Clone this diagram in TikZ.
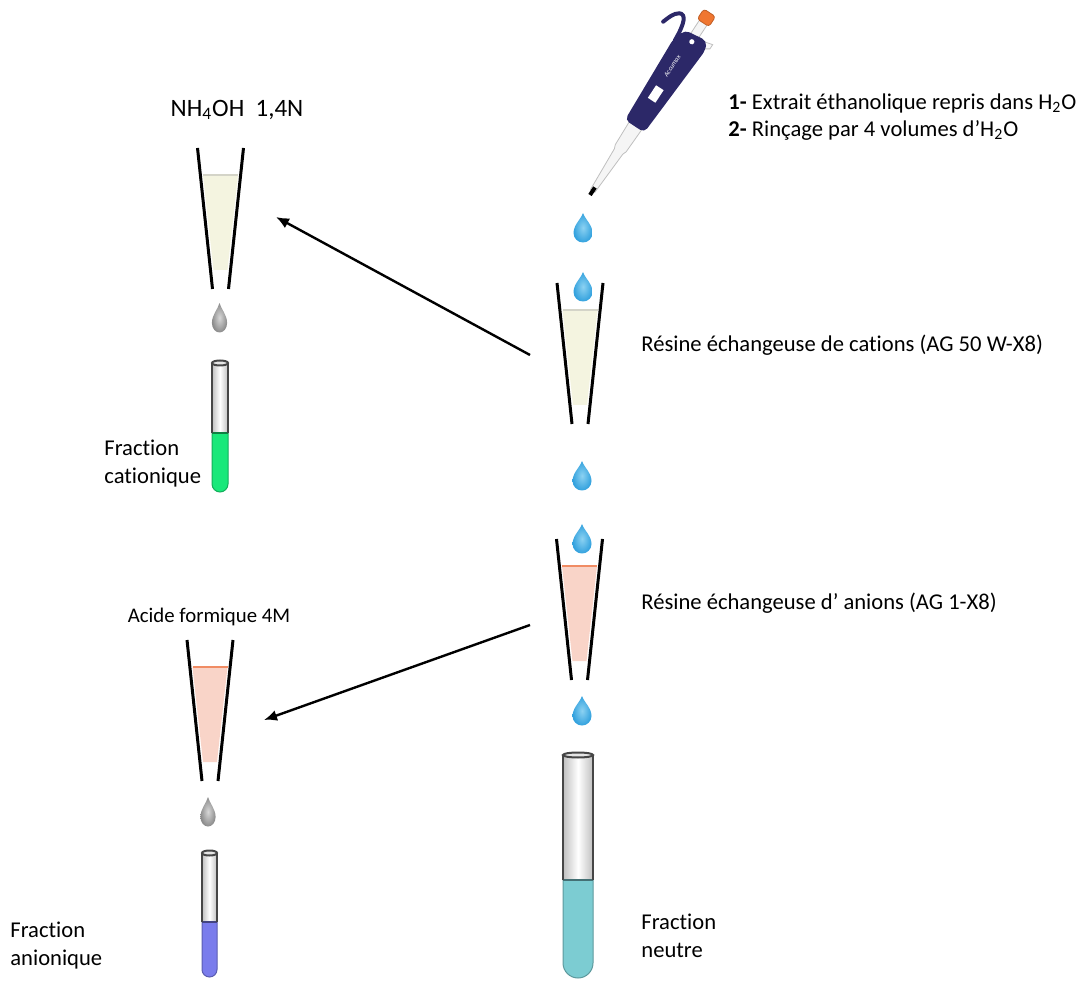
\documentclass[tikz,border=0pt]{standalone}
\usepackage{fontspec}
\setmainfont{Carlito}[Ligatures=NoCommon]
\usetikzlibrary{arrows.meta}

\definecolor{navy}{RGB}{44,40,104}
\definecolor{pipeorange}{RGB}{240,118,48}
\definecolor{dropblue}{RGB}{52,162,222}
\definecolor{droplight}{RGB}{140,210,242}
\definecolor{dropgray}{RGB}{140,140,140}
\definecolor{droplgray}{RGB}{215,215,215}
\definecolor{cream}{RGB}{244,244,224}
\definecolor{creamedge}{RGB}{212,212,200}
\definecolor{salmon}{RGB}{249,212,200}
\definecolor{salmonedge}{RGB}{240,140,100}
\definecolor{cationgreen}{RGB}{25,232,122}
\definecolor{anionblue}{RGB}{122,124,236}
\definecolor{neutralcyan}{RGB}{124,204,210}

% resin column: #1 x of the axis, #2 top, #3 resin, #4 resin surface
\newcommand\resincol[4]{%
  \fill[#3] (#1-17.5,#2+27) -- (#1+17.5,#2+27) -- (#1+7,#2+122) -- (#1-7,#2+122) -- cycle;
  \draw[#4, line width=0.7pt] (#1-17.5,#2+27) -- (#1+17.5,#2+27);
  \draw[colline] (#1-23,#2) -- (#1-8,#2+141);
  \draw[colline] (#1+23,#2) -- (#1+8,#2+141);
}
% test tube: #1 x, #2 rim, #3 liquid level, #4 bottom, #5 half width, #6 liquid
\newcommand\testtube[6]{%
  \shade[left color=gray!50, right color=gray!50, middle color=white] (#1-#5,#2) rectangle (#1+#5,#3);
  \filldraw[fill=#6, draw=#6!75!black, line width=0.5pt] (#1-#5,#3) -- (#1-#5,#4-#5)
    .. controls (#1-#5,#4-0.45*#5) and (#1-0.55*#5,#4) .. (#1,#4)
    .. controls (#1+0.55*#5,#4) and (#1+#5,#4-0.45*#5) .. (#1+#5,#4-#5) -- (#1+#5,#3) -- cycle;
  \draw[#6!55!black, line width=1.3pt] (#1-#5,#3) -- (#1+#5,#3);
  \draw[tubeline] (#1-#5,#3) -- (#1-#5,#2) (#1+#5,#2) -- (#1+#5,#3);
  \draw[tubeline, fill=gray!20] (#1,#2) ellipse [x radius=#5, y radius=2.5];
}

\begin{document}
\begin{tikzpicture}[x=0.5pt, y=-0.5pt,
  colline/.style={line width=1.5pt, black},
  tubeline/.style={line width=1pt, gray!55!black},
  flow/.style={line width=1.2pt, -{Latex[length=6.5pt, width=5.5pt]}},
  lbl/.style={inner sep=0pt, anchor=west, align=left, font=\fontsize{11.3}{14}\selectfont},
  bluedrop/.pic={\shade[inner color=droplight, outer color=dropblue] (0,-15) .. controls (2,-9) and (9.5,-3) .. (9.5,5) .. controls (9.5,10.5) and (5,14.5) .. (0,14.5) .. controls (-5,14.5) and (-9.5,10.5) .. (-9.5,5) .. controls (-9.5,-3) and (-2,-9) .. cycle;},
  graydrop/.pic={\shade[xscale=0.8, inner color=droplgray, outer color=dropgray] (0,-15) .. controls (2,-9) and (9.5,-3) .. (9.5,5) .. controls (9.5,10.5) and (5,14.5) .. (0,14.5) .. controls (-5,14.5) and (-9.5,10.5) .. (-9.5,5) .. controls (-9.5,-3) and (-2,-9) .. cycle;}]
\useasboundingbox (0,0) rectangle (1081,983);

% pipette
\begin{scope}[shift={(590,195)}, rotate=56.7]
  \filldraw[fill=gray!8, draw=gray!50, line width=0.4pt] (5,-2.6) -- (52,-5) -- (56,-6.5) -- (86,-7.5) -- (86,7.5) -- (56,6.5) -- (52,5) -- (5,2.6) -- cycle;
  \filldraw[fill=gray!8, draw=gray!50, line width=0.4pt] (185,-4.5) rectangle (208,4.5);
  \fill[black] (0,-2) rectangle (9,2);
  \filldraw[fill=gray!5, draw=gray!50, line width=0.4pt] (180,8) -- (188,20) -- (193,20) -- (190,8) -- cycle;
  \draw[navy, line width=2pt, line cap=round] (176,-14) .. controls (196,-15) and (204,-19) .. (201,-25) .. controls (198,-30) and (191,-32) .. (185,-34);
  \fill[navy, rounded corners=2.5pt] (82,-12) -- (176,-16) -- (190,-11) -- (193,13) -- (184,17) -- (82,11) -- cycle;
  \fill[white] (113,-5) rectangle (128,4);
  \node[white, transform shape, font=\itshape\fontsize{3.4}{3.4}\selectfont, inner sep=0pt] (brand) at (153,-2) {Accumax};
  \fill[white] (184,1) circle (1.3pt);
  \filldraw[fill=pipeorange, draw=pipeorange!80!black, line width=0.4pt, rounded corners=1.5pt] (206,-7) rectangle (218,7);
\end{scope}

\node[lbl] (step1) at (728,103) {\textbf{1-} Extrait éthanolique repris dans H\textsubscript{2}O};
\node[lbl] (step2) at (728,130) {\textbf{2-} Rinçage par 4 volumes d’H\textsubscript{2}O};

% main line of columns
\pic (d1) at (583,228) {bluedrop};
\resincol{580}{283}{cream}{creamedge}
\pic (d2) at (583,287) {bluedrop};
\node[lbl] (cation res) at (641,345) {Résine échangeuse de cations (AG 50 W-X8)};
\pic (d3) at (582,476) {bluedrop};
\resincol{579.5}{539}{salmon}{salmonedge}
\pic (d4) at (582,539) {bluedrop};
\node[lbl] (anion res) at (641,603) {Résine échangeuse d’ anions (AG 1-X8)};
\pic (d5) at (582,711) {bluedrop};
\testtube{578}{755}{880}{978}{15}{neutralcyan}
\node[lbl] (frac neu) at (641,936) {Fraction\\neutre};

% cation elution
\node[lbl, anchor=center, font=\fontsize{12.5}{14}\selectfont] (eluant1) at (237,110) {NH\textsubscript{4}OH\ \ 1,4N};
\resincol{220.5}{148}{cream}{creamedge}
\pic (g1) at (219.5,318) {graydrop};
\testtube{220}{363}{433}{492}{8}{cationgreen}
\node[lbl] (frac cat) at (104,464) {Fraction\\cationique};

% anion elution
\node[lbl, anchor=center, font=\fontsize{10.4}{14}\selectfont] (eluant2) at (209,617) {Acide formique 4M};
\resincol{210}{640}{salmon}{salmonedge}
\pic (g2) at (208,812) {graydrop};
\testtube{209.5}{853}{922}{977}{7.5}{anionblue}
\node[lbl] (frac an) at (10,946) {Fraction\\anionique};

\coordinate (from cat) at (530,355);
\coordinate (to cat) at (276,217);
\coordinate (from an) at (530,625);
\coordinate (to an) at (264,720);
\draw[flow] (from cat) -- (to cat);
\draw[flow] (from an) -- (to an);
\end{tikzpicture}
\end{document}
